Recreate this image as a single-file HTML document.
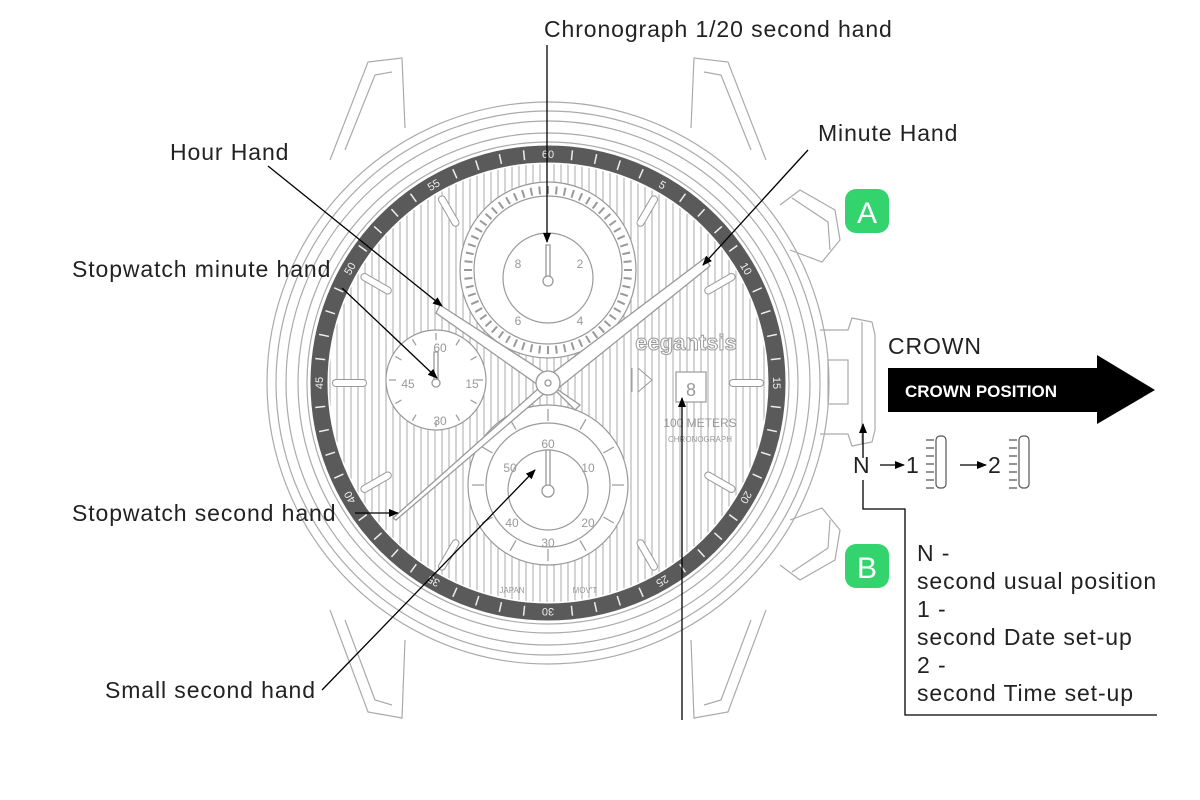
<!DOCTYPE html>
<html><head><meta charset="utf-8"><style>
html,body{margin:0;padding:0;background:#fff;width:1200px;height:800px;overflow:hidden}
svg{display:block}
text{font-family:"Liberation Sans",sans-serif}
</style></head><body>
<svg id="s" width="1200" height="800" viewBox="0 0 1200 800" xmlns="http://www.w3.org/2000/svg">
<defs>
<marker id="ah" markerWidth="10" markerHeight="8" refX="9" refY="4" orient="auto" markerUnits="userSpaceOnUse"><path d="M0,0 L10,4 L0,8 Z" fill="#000"/></marker>
<clipPath id="dial"><circle cx="548" cy="383" r="219"/></clipPath>
</defs>
<g fill="none" stroke="#aaa" stroke-width="1.2">
<path d="M330,160 L368,62 L402,58 L405,128"/><path d="M345,150 L375,75 L392,72"/>
<path d="M766,160 L728,62 L694,58 L691,128"/><path d="M751,150 L721,75 L704,72"/>
<path d="M330,610 L368,712 L402,718 L405,640"/><path d="M345,620 L375,700 L392,705"/>
<path d="M766,610 L728,712 L694,718 L691,640"/><path d="M751,620 L721,700 L704,705"/>
<circle cx="548" cy="383" r="281"/>
<circle cx="548" cy="383" r="272"/>
<circle cx="548" cy="383" r="262"/>
<circle cx="548" cy="383" r="250"/>
<circle cx="548" cy="383" r="241"/>
<path d="M780,205 L800,190 L835,210 L840,240 L822,262 L790,250"/><path d="M792,198 L828,222 L830,250"/>
<path d="M780,565 L800,580 L835,560 L840,530 L822,508 L790,520"/><path d="M792,572 L828,548 L830,520"/>
<path d="M820,330 L848,330 L852,318 L872,322 L875,335 L875,430 L872,442 L852,446 L848,434 L820,434"/>
<line x1="862" y1="322" x2="862" y2="444"/><rect x="828" y="360" width="20" height="44"/>
</g>
<circle cx="548" cy="383" r="229" fill="none" stroke="#5a5a5a" stroke-width="17"/>
<g id="bz"></g>
<g id="stripes" clip-path="url(#dial)" stroke="#aaa" stroke-width="1"></g>
<g fill="#fff" stroke="#999" stroke-width="1.2">
<circle cx="548" cy="270" r="88"/><circle cx="548" cy="270" r="74"/><circle cx="548" cy="278" r="45"/>
<circle cx="548" cy="485" r="80"/><circle cx="548" cy="485" r="62"/><circle cx="548" cy="490" r="40"/>
<circle cx="436" cy="380" r="50"/>
<rect x="676" y="372" width="30" height="30"/>
</g>
<g id="idx" stroke="#999" fill="#fff" stroke-width="1.2"></g>
<g fill="#999" font-size="12" text-anchor="middle">
<text x="518" y="268">8</text><text x="580" y="268">2</text><text x="518" y="325">6</text><text x="580" y="325">4</text>
<text x="548" y="448">60</text><text x="510" y="472">50</text><text x="588" y="472">10</text><text x="512" y="527">40</text><text x="588" y="527">20</text><text x="548" y="547">30</text>
<text x="440" y="352">60</text><text x="408" y="388">45</text><text x="472" y="388">15</text><text x="440" y="425">30</text>
<text x="686" y="350" font-size="22" font-weight="bold" fill="#fff" stroke="#999">eegantsis</text>
<text x="691" y="396" font-size="18">8</text>
<text x="700" y="427" font-size="12">100 METERS</text><text x="700" y="442" font-size="8">CHRONOGRAPH</text>
<text x="512" y="593" font-size="8">JAPAN</text><text x="585" y="593" font-size="8">MOV'T</text>
<path d="M632,368 L632,392 M638,368 L652,380 L638,392 Z" fill="none" stroke="#999"/>
</g>
<g stroke="#999" fill="#fff" stroke-width="1.3">
<path d="M440,305 L553,378 L548,392 L436,313 Z"/>
<path d="M705,258 L710,266 L556,390 L546,378 Z"/>
<path d="M548,380 L393,518 L396,520 L553,386 Z"/>
<path d="M548,383 L580,405 L575,410 Z"/>
<circle cx="548" cy="383" r="12"/><circle cx="548" cy="383" r="3"/>
<path d="M546,245 L550,245 L550,278 L546,278 Z"/><circle cx="548" cy="281" r="5"/>
<path d="M546,450 L550,450 L550,488 L546,488 Z"/><circle cx="548" cy="491" r="6"/>
<path d="M434,352 L438,352 L438,380 L434,380 Z"/><circle cx="436" cy="383" r="4"/>
</g>
<g stroke="#000" stroke-width="1.3" fill="none" marker-end="url(#ah)">
<line x1="547" y1="45" x2="547" y2="242"/>
<line x1="268" y1="166" x2="442" y2="306"/>
<line x1="808" y1="150" x2="703" y2="265"/>
<line x1="342" y1="288" x2="437" y2="378"/>
<line x1="355" y1="513" x2="398" y2="513"/>
<line x1="322" y1="690" x2="535" y2="470"/>
<line x1="682" y1="720" x2="682" y2="398"/>
<line x1="863" y1="458" x2="863" y2="424"/>
<line x1="880" y1="465" x2="904" y2="465"/>
<line x1="960" y1="465" x2="986" y2="465"/>
</g>
<path d="M863,480 L863,509 L905,509 L905,715 L1157,715" stroke="#000" stroke-width="1.3" fill="none"/>
<g stroke="#555" fill="none" stroke-width="1.2">
<rect x="936" y="436" width="10" height="52" rx="4"/><rect x="1019" y="436" width="10" height="52" rx="4"/>
<path d="M926,440 h8 M926,448 h8 M926,456 h8 M926,464 h8 M926,472 h8 M926,480 h8 M926,488 h8 M1009,440 h8 M1009,448 h8 M1009,456 h8 M1009,464 h8 M1009,472 h8 M1009,480 h8 M1009,488 h8"/>
</g>
<rect x="845" y="189" width="44" height="44" rx="11" fill="#33d46e"/>
<text x="867" y="223" font-size="30" fill="#fff" text-anchor="middle">A</text>
<rect x="845" y="544" width="44" height="44" rx="11" fill="#33d46e"/>
<text x="867" y="578" font-size="30" fill="#fff" text-anchor="middle">B</text>
<path d="M888,368 L1097,368 L1097,355 L1155,390 L1097,424 L1097,412 L888,412 Z" fill="#000"/>
<text x="905" y="397" font-size="17" font-weight="bold" fill="#fff">CROWN POSITION</text>
<g font-size="23" fill="#222" letter-spacing="0.9">
<text x="544" y="37">Chronograph 1/20 second hand</text>
<text x="170" y="160">Hour Hand</text>
<text x="818" y="141">Minute Hand</text>
<text x="72" y="277">Stopwatch minute hand</text>
<text x="72" y="521">Stopwatch second hand</text>
<text x="105" y="698">Small second hand</text>
<text x="888" y="354">CROWN</text>
<text x="853" y="473">N</text><text x="906" y="473">1</text><text x="988" y="473">2</text>
<text x="917" y="561">N -</text>
<text x="917" y="589">second usual position</text>
<text x="917" y="617">1 -</text>
<text x="917" y="645">second Date set-up</text>
<text x="917" y="673">2 -</text>
<text x="917" y="701">second Time set-up</text>
</g>
</svg>
<script>
var NS="http://www.w3.org/2000/svg",cx=548,cy=383;
function el(p,t,a){var e=document.createElementNS(NS,t);for(var k in a)e.setAttribute(k,a[k]);p.appendChild(e);return e;}
var st=document.getElementById("stripes");
for(var x=330;x<770;x+=7)el(st,"line",{x1:x,y1:150,x2:x,y2:620});
var bz=document.getElementById("bz");
var labs=[60,5,10,15,20,25,30,35,40,45,50,55];
for(var i=0;i<60;i++){var a=i*6*Math.PI/180,s=Math.sin(a),c=-Math.cos(a);
if(i%5==0){var tx=cx+s*229,ty=cy+c*229;
var t=el(bz,"text",{x:tx,y:ty+4,"font-size":11,fill:"#eee","text-anchor":"middle",transform:"rotate("+(i*6)+" "+tx+" "+ty+")"});t.textContent=labs[i/5];}
else el(bz,"line",{x1:cx+s*224,y1:cy+c*224,x2:cx+s*234,y2:cy+c*234,stroke:"#eee","stroke-width":1.5});}
var idx=document.getElementById("idx");
[30,60,120,150,210,240,300,330,90,270].forEach(function(d){var a=d*Math.PI/180,s=Math.sin(a),c=-Math.cos(a);
var x1=cx+s*185,y1=cy+c*185,x2=cx+s*212,y2=cy+c*212;
el(idx,"line",{x1:x1,y1:y1,x2:x2,y2:y2,"stroke-width":8,stroke:"#999","stroke-linecap":"round"});
el(idx,"line",{x1:x1,y1:y1,x2:x2,y2:y2,"stroke-width":6,stroke:"#fff","stroke-linecap":"round"});});
for(var i=0;i<60;i++){var a=i*6*Math.PI/180;el(idx,"line",{x1:548+Math.sin(a)*76,y1:270-Math.cos(a)*76,x2:548+Math.sin(a)*84,y2:270-Math.cos(a)*84,"stroke-width":2});}
for(var i=0;i<12;i++){var a=i*30*Math.PI/180;el(idx,"line",{x1:548+Math.sin(a)*64,y1:485-Math.cos(a)*64,x2:548+Math.sin(a)*76,y2:485-Math.cos(a)*76});
el(idx,"line",{x1:436+Math.sin(a)*40,y1:380-Math.cos(a)*40,x2:436+Math.sin(a)*47,y2:380-Math.cos(a)*47});}
</script>
</body></html>
